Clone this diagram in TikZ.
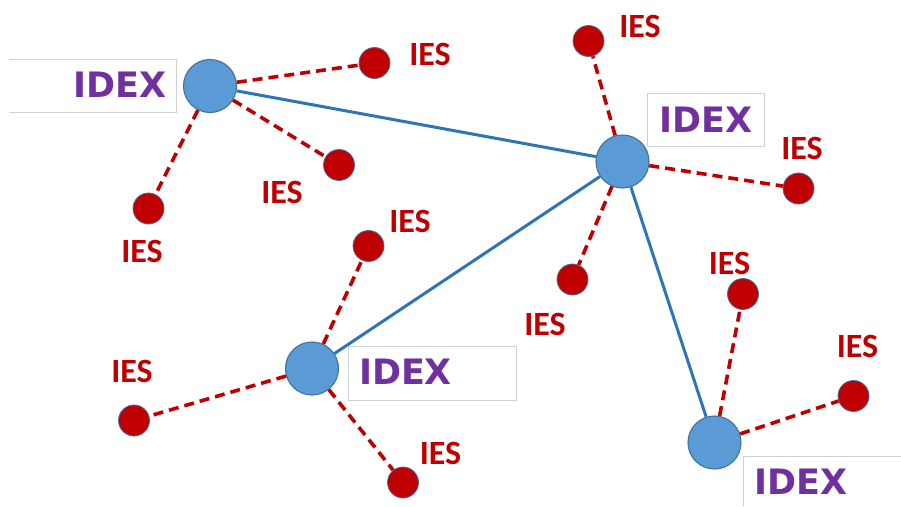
\documentclass[tikz,border=0pt]{standalone}
\usepackage{fontspec}
\newfontfamily\iesfont{Carlito}
\newfontfamily\idexfont{DejaVu Sans}
\definecolor{hubfill}{HTML}{5B9BD5}
\definecolor{hubedge}{HTML}{41719C}
\definecolor{linkblue}{HTML}{2E75B6}
\definecolor{iesred}{HTML}{C00000}
\definecolor{idexpurple}{HTML}{7030A0}
\definecolor{boxgrey}{HTML}{D0D0D0}
\begin{document}
\begin{tikzpicture}[x=1pt,y=-1pt,
  hub/.style={circle,fill=hubfill,draw=hubedge,line width=1.1pt,minimum size=53pt,inner sep=0pt},
  ies/.style={circle,fill=iesred,draw=hubedge,line width=0.8pt,minimum size=31pt,inner sep=0pt},
  ieslabel/.style={text=iesred,font=\iesfont\bfseries\fontsize{34}{34}\selectfont,inner sep=0pt},
  idexlabel/.style={text=idexpurple,font=\idexfont\bfseries\fontsize{35}{35}\selectfont,inner sep=0pt},
  backbone/.style={draw=linkblue,line width=3pt},
  spoke/.style={draw=iesred,line width=3.6pt,dash pattern=on 10pt off 6pt},
  frame/.style={draw=boxgrey,line width=0.9pt}]
\useasboundingbox (0,0) rectangle (901,506);

% label frames
\draw[frame] (9,59) -- (176,59) -- (176,112) -- (9,112);
\draw[frame] (647,93) rectangle (764,146);
\draw[frame] (348,346) rectangle (516,400);
\draw[frame] (901,456) -- (743,456) -- (743,506);

% IDEX labels
\node[idexlabel] (t1) at (120,85) {IDEX};
\node[idexlabel] (t2) at (705.5,119.5) {IDEX};
\node[idexlabel] (t3) at (405.5,372) {IDEX};
\node[idexlabel] (t4) at (800.5,482) {IDEX};

% hubs
\node[hub] (h1) at (210,86) {};
\node[hub] (h2) at (622.5,161.5) {};
\node[hub] (h3) at (312,368.5) {};
\node[hub] (h4) at (714.5,442.5) {};

% IES nodes
\node[ies] (r1) at (374.5,63) {};
\node[ies] (r2) at (339,165) {};
\node[ies] (r3) at (148.5,208.5) {};
\node[ies] (r4) at (588.5,41) {};
\node[ies] (r5) at (798.5,188.5) {};
\node[ies] (r6) at (572.5,279.5) {};
\node[ies] (r7) at (368.5,246) {};
\node[ies] (r8) at (134,420.5) {};
\node[ies] (r9) at (403,482.5) {};
\node[ies] (r10) at (743,294) {};
\node[ies] (r11) at (853.5,396) {};

% IES labels
\node[ieslabel] (l1) at (430,54.5) {IES};
\node[ieslabel] (l2) at (282,192) {IES};
\node[ieslabel] (l3) at (142,251.5) {IES};
\node[ieslabel] (l4) at (640,26) {IES};
\node[ieslabel] (l5) at (802,148.5) {IES};
\node[ieslabel] (l6) at (545,324.5) {IES};
\node[ieslabel] (l7) at (410,221) {IES};
\node[ieslabel] (l8) at (132,371.5) {IES};
\node[ieslabel] (l9) at (440.5,453.5) {IES};
\node[ieslabel] (l10) at (729.5,263) {IES};
\node[ieslabel] (l11) at (857.5,346) {IES};

% connections between hubs
\draw[backbone] (h1) -- (h2);
\draw[backbone] (h2) -- (h3);
\draw[backbone] (h2) -- (h4);

% spokes to IES nodes
\draw[spoke] (h1) -- (r1);
\draw[spoke] (h1) -- (r2);
\draw[spoke] (h1) -- (r3);
\draw[spoke] (h2) -- (r4);
\draw[spoke] (h2) -- (r5);
\draw[spoke] (h2) -- (r6);
\draw[spoke] (h3) -- (r7);
\draw[spoke] (h3) -- (r8);
\draw[spoke] (h3) -- (r9);
\draw[spoke] (h4) -- (r10);
\draw[spoke] (h4) -- (r11);
\end{tikzpicture}
\end{document}
